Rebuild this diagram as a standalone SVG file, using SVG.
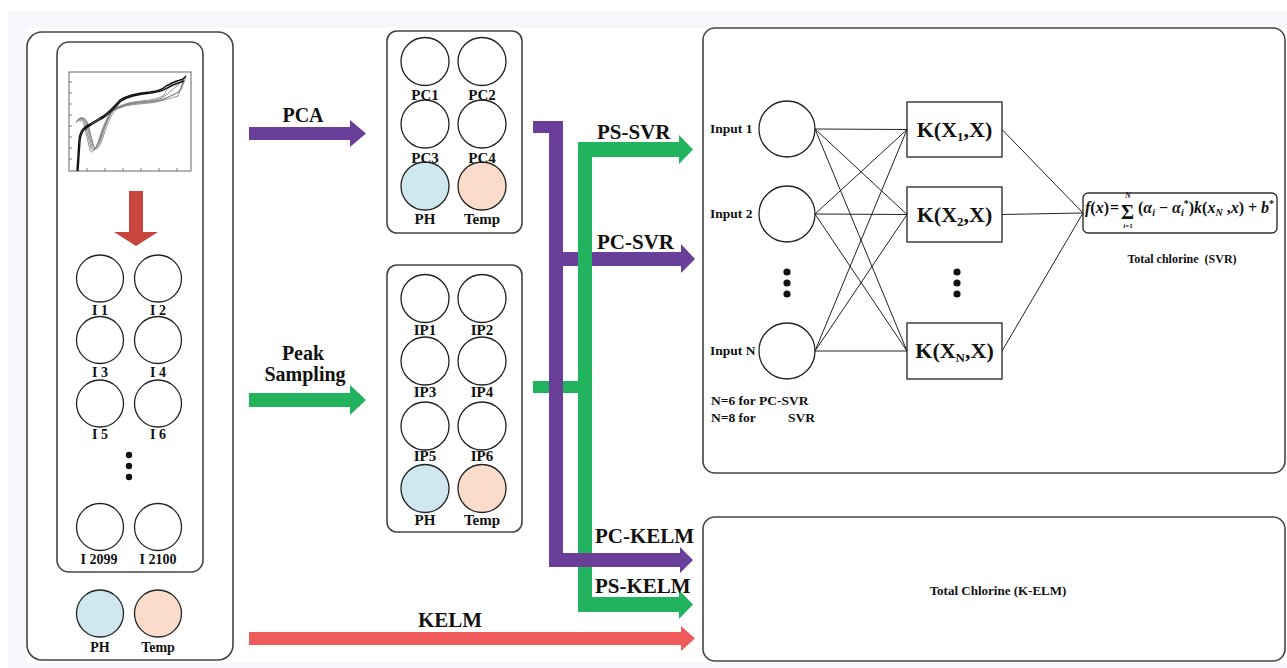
<svg xmlns="http://www.w3.org/2000/svg" width="1287" height="668" viewBox="0 0 1287 668">
<style>
.t{font-family:"Liberation Serif","Times New Roman",serif;font-weight:bold;fill:#111}
.box{fill:#fff;stroke:#444;stroke-width:1.6}
.c{fill:#fff;stroke:#222;stroke-width:1.3}
.ph{fill:#cfe7ef;stroke:#222;stroke-width:1.3}
.tp{fill:#fbdccb;stroke:#222;stroke-width:1.3}
.kb{fill:#fff;stroke:#333;stroke-width:1.4}
.ln{stroke:#222;stroke-width:1;fill:none}
.g{fill:none;stroke:#777;stroke-width:0.8}
.k{fill:none;stroke:#111;stroke-width:1.4}
.fm{font-family:"Liberation Serif","Times New Roman",serif;font-weight:bold;font-style:italic;fill:#111}
</style>
<rect width="1287" height="668" fill="#fff"/>
<rect x="8" y="11" width="1279" height="657" fill="#f7f7fb"/>
<rect x="26" y="28" width="1261" height="635" fill="#fff"/>

<g id="raw-panel">
<rect class="box" x="27" y="32" width="206" height="628" rx="15"/>
<rect class="box" x="57" y="42" width="146" height="530" rx="12"/>
<g id="chart">
<rect x="69" y="72" width="122" height="99" fill="#fff" stroke="#666" stroke-width="1"/>
<path stroke="#666" stroke-width="0.8" d="M69,82h3M69,93h3M69,104h3M69,115h3M69,126h3M69,137h3M69,148h3M69,159h3M87,171v-3M105,171v-3M123,171v-3M141,171v-3M159,171v-3M177,171v-3"/>
<path class="g" d="M76,123 C78,117 82,117 84,125 L90,150 C92,155 96,150 100,136 C104,124 108,114 114,110 L125,106 C140,103 150,104 160,101 C168,99 172,98 178,96 L183,82"/>
<path class="g" d="M77,122 C79,116 83,117 85,124 L91,148 C93,153 97,149 101,135 C105,123 109,113 115,109 L126,105 C141,102 151,103 161,100 C169,97 173,95 179,92 L184,80"/>
<path class="g" d="M78,121 C80,116 84,117 86,123 L92,147 C94,152 98,148 102,134 C106,122 110,112 116,108 L127,104 C142,101 152,102 162,98 C168,94 172,90 177,86 L185,78"/>
<path class="g" d="M79,121 C81,116 85,117 87,123 L93,146 C95,151 99,147 103,133 C107,121 111,111 117,107 L128,103 C143,100 153,101 163,96 C167,90 170,84 175,81 L183,80"/>
<path class="g" d="M80,122 C82,117 86,118 88,124 L94,147 C96,152 100,148 104,134 C108,122 112,112 118,108 L129,104 C144,101 154,102 164,99 C170,96 176,94 181,90 L186,77"/>
<path class="k" d="M77,171 L79,140 C80,130 84,127 90,124 L100,118 C108,114 114,106 120,100 C126,96 140,93 150,92 C158,91 162,90 166,86 L172,83 L183,79 L186,76"/>
<path class="k" d="M78,171 L80,141 C81,131 85,128 91,125 L101,119 C109,115 115,107 121,101 C127,97 141,94 151,93 C159,92 163,91 167,88 L173,85 L184,81"/>
</g>
<polygon fill="#c8463e" points="129,191 143,191 143,232 158,232 136,246 114,232 129,232"/>
<circle class="c" cx="100" cy="278.5" r="23.5"/><circle class="c" cx="158" cy="278.5" r="23.5"/>
<circle class="c" cx="100" cy="340" r="23.5"/><circle class="c" cx="158" cy="340" r="23.5"/>
<circle class="c" cx="100" cy="403.5" r="23.5"/><circle class="c" cx="158" cy="403.5" r="23.5"/>
<circle class="c" cx="100" cy="527" r="23.5"/><circle class="c" cx="158" cy="527" r="23.5"/>
<circle class="ph" cx="100" cy="613.5" r="23.5"/><circle class="tp" cx="158" cy="613.5" r="23.5"/>
<circle cx="129" cy="455" r="3.2" fill="#111"/><circle cx="129" cy="466" r="3.2" fill="#111"/><circle cx="129" cy="477" r="3.2" fill="#111"/>
<g class="t" font-size="14" text-anchor="middle">
<text x="100" y="315">I 1</text><text x="158" y="315">I 2</text>
<text x="100" y="377">I 3</text><text x="158" y="377">I 4</text>
<text x="100" y="439">I 5</text><text x="158" y="439">I 6</text>
<text x="99" y="564">I 2099</text><text x="158" y="564">I 2100</text>
<text x="100" y="652">PH</text><text x="158" y="652">Temp</text>
</g>
</g>

<g id="pca-box">
<rect class="box" x="387" y="31" width="135" height="202" rx="10"/>
<circle class="c" cx="425" cy="61.5" r="24"/><circle class="c" cx="482" cy="61.5" r="24"/>
<circle class="c" cx="425" cy="124" r="24"/><circle class="c" cx="482" cy="124" r="24"/>
<circle class="ph" cx="425" cy="186" r="24"/><circle class="tp" cx="482" cy="186" r="24"/>
<g class="t" font-size="15" text-anchor="middle">
<text x="425" y="100">PC1</text><text x="482" y="100">PC2</text>
<text x="425" y="163">PC3</text><text x="482" y="163">PC4</text>
<text x="425" y="224">PH</text><text x="482" y="224">Temp</text>
</g>
</g>

<g id="ps-box">
<rect class="box" x="387" y="265" width="135" height="267" rx="10"/>
<circle class="c" cx="425" cy="298.5" r="24"/><circle class="c" cx="482" cy="298.5" r="24"/>
<circle class="c" cx="425" cy="361" r="24"/><circle class="c" cx="482" cy="361" r="24"/>
<circle class="c" cx="425" cy="426" r="24"/><circle class="c" cx="482" cy="426" r="24"/>
<circle class="ph" cx="425" cy="488.5" r="24"/><circle class="tp" cx="482" cy="488.5" r="24"/>
<g class="t" font-size="15" text-anchor="middle">
<text x="425" y="335">IP1</text><text x="482" y="335">IP2</text>
<text x="425" y="397">IP3</text><text x="482" y="397">IP4</text>
<text x="425" y="461">IP5</text><text x="482" y="461">IP6</text>
<text x="425" y="525">PH</text><text x="482" y="525">Temp</text>
</g>
</g>

<g id="svr-panel">
<rect class="box" x="703" y="28" width="582" height="445" rx="12"/>
<circle class="c" cx="787" cy="129" r="28"/>
<circle class="c" cx="787" cy="214" r="28"/>
<circle class="c" cx="787" cy="351" r="28"/>
<circle cx="787" cy="272" r="3.6" fill="#111"/><circle cx="787" cy="283" r="3.6" fill="#111"/><circle cx="787" cy="294" r="3.6" fill="#111"/>
<circle cx="957" cy="272" r="3.6" fill="#111"/><circle cx="957" cy="283" r="3.6" fill="#111"/><circle cx="957" cy="294" r="3.6" fill="#111"/>
<g class="t" font-size="13.5">
<text x="710" y="133">Input 1</text>
<text x="710" y="218">Input 2</text>
<text x="710" y="355">Input N</text>
<text x="711" y="405">N=6 for PC-SVR</text>
<text x="711" y="422">N=8 for</text>
<text x="815" y="422" text-anchor="end">SVR</text>
</g>
<g id="k1"><rect class="kb" x="907" y="102" width="95" height="55"/>
<text class="t" font-size="22" x="954.5" y="137" text-anchor="middle">K(X<tspan font-size="13" dy="4">1</tspan><tspan dy="-4">,X)</tspan></text></g>
<g id="k2"><rect class="kb" x="907" y="187" width="95" height="55"/>
<text class="t" font-size="22" x="954.5" y="222" text-anchor="middle">K(X<tspan font-size="13" dy="4">2</tspan><tspan dy="-4">,X)</tspan></text></g>
<g id="kn"><rect class="kb" x="907" y="323" width="95" height="56"/>
<text class="t" font-size="22" x="954.5" y="358" text-anchor="middle">K(X<tspan font-size="13" dy="4">N</tspan><tspan dy="-4">,X)</tspan></text></g>
<g id="formula">
<rect x="1083" y="193" width="194" height="40" rx="5" fill="#fff" stroke="#333" stroke-width="1.4"/>
<text class="fm" font-size="16" x="1085" y="213">f<tspan font-style="normal">(</tspan>x<tspan font-style="normal">)</tspan></text>
<text class="t" font-size="16" x="1110" y="213" font-weight="normal">=</text>
<text class="t" font-size="20" x="1121" y="219" font-weight="normal">Σ</text>
<text class="fm" font-size="8" x="1128" y="197.5" text-anchor="middle">N</text>
<text class="fm" font-size="7" x="1128" y="228" text-anchor="middle">i<tspan font-style="normal">=1</tspan></text>
<text class="fm" font-size="16" x="1138" y="213"><tspan font-style="normal">(</tspan>α<tspan dy="3" font-size="10">i</tspan><tspan dy="-3" font-style="normal"> − </tspan>α<tspan dy="3" font-size="10">i</tspan><tspan dy="-9" font-size="10" font-style="normal">*</tspan><tspan dy="6" font-style="normal">)</tspan>k<tspan font-style="normal">(</tspan>x<tspan dy="3" font-size="10">N</tspan><tspan dy="-3" font-style="normal"> ,</tspan>x<tspan font-style="normal">) + </tspan>b<tspan dy="-6" font-size="10" font-style="normal">*</tspan></text>
</g>
<text class="t" font-size="12" x="1182" y="263" text-anchor="middle" xml:space="preserve">Total chlorine  (SVR)</text>
</g>

<g id="kelm-panel">
<rect class="box" x="703" y="517" width="582" height="144" rx="12"/>
<text class="t" font-size="13" x="998" y="595" text-anchor="middle">Total Chlorine (K-ELM)</text>
</g>

<g id="connectors">
<polygon fill="#6a3f99" points="249,127 350,127 350,120 366,133.5 350,147 350,140 249,140"/>
<polygon fill="#22b35e" points="249,393 350,393 350,385 366,400 350,415 350,407 249,407"/>
<polygon fill="#ef5b5b" points="249,632 681,632 681,626 695,638.5 681,651 681,645 249,645"/>
<polygon fill="#6a3f99" points="560,252 681,252 681,244 695,259 681,273 681,266 560,266"/>
<polygon fill="#22b35e" points="578,142 679,142 679,135 693,149.5 679,164 679,157 592,157 592,597 679,597 679,590 693,604.5 679,619 679,612 578,612 578,393 533,393 533,381 578,381"/>
<polygon fill="#6a3f99" points="533,121 563,121 563,553 680,553 680,547 693,560 680,573 680,567 549,567 549,133 533,133"/>
<g class="t" font-size="20" text-anchor="middle">
<text x="303" y="122">PCA</text>
<text x="303" y="360">Peak</text>
<text x="305" y="381">Sampling</text>
</g>
<g class="t" font-size="21">
<text x="597" y="139">PS-SVR</text>
<text x="597" y="249">PC-SVR</text>
<text x="595" y="543">PC-KELM</text>
<text x="595" y="593">PS-KELM</text>
<text x="418" y="627">KELM</text>
</g>
<g class="ln">
<path d="M815,129L907,129.5M815,129L907,214.5M815,129L907,351"/>
<path d="M815,214L907,129.5M815,214L907,214.5M815,214L907,351"/>
<path d="M815,351L907,129.5M815,351L907,214.5M815,351L907,351"/>
<path d="M1002,129.5L1083,213M1002,214.5L1083,213M1002,351L1083,213"/>
</g>
</g>
</svg>
